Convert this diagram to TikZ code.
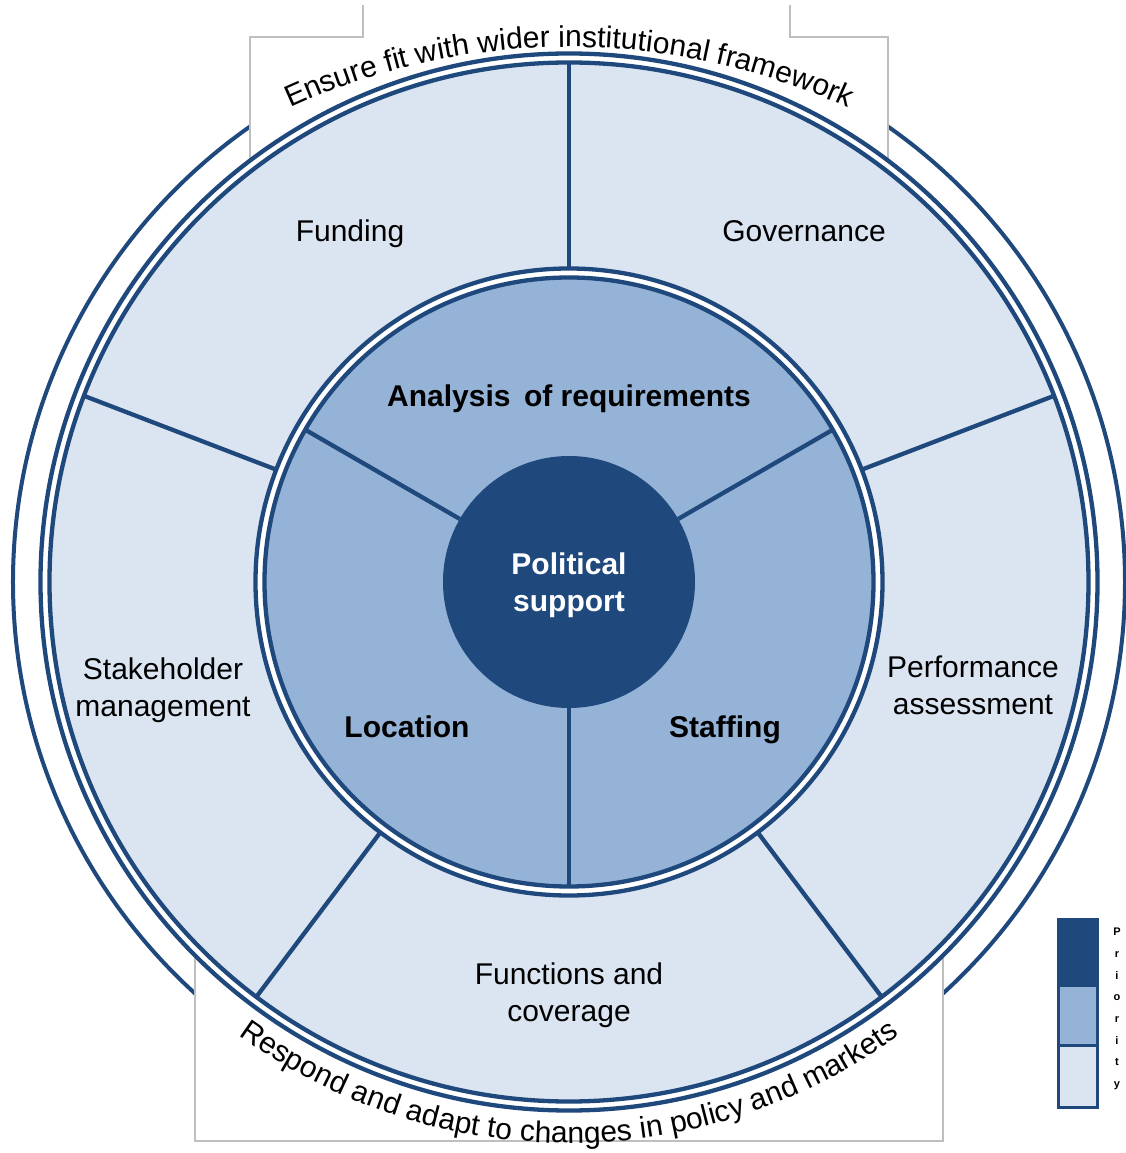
\documentclass[tikz,border=0pt]{standalone}
\usepackage{fontspec}
\setmainfont{Liberation Sans}
\usetikzlibrary{decorations.text}
\definecolor{dkblue}{HTML}{1F497D}
\definecolor{mdblue}{HTML}{95B3D7}
\definecolor{ltblue}{HTML}{DBE5F1}
\definecolor{boxgray}{HTML}{BFBFBF}
\begin{document}
\begin{tikzpicture}[x=1pt,y=1pt,
  ringline/.style={draw=dkblue, line width=4.3pt},
  ringnode/.style={circle, ringline, inner sep=0pt, outer sep=0pt},
  divider/.style={draw=dkblue, line width=4.3pt},
  lbl/.style={font=\fontsize{30}{37}\selectfont, anchor=base, inner sep=0pt},
  blbl/.style={font=\fontsize{30}{37}\selectfont\bfseries, anchor=base, inner sep=0pt},
  boxedge/.style={draw=boxgray, line width=1.3pt},
  legbox/.style={rectangle, draw=dkblue, line width=3pt, inner sep=0pt, minimum width=39pt, anchor=north west},
  arctext/.style={decorate, decoration={text along path, text align=center, text={#1}}}
  ]
\useasboundingbox (-569pt,-571pt) rectangle (557pt,582pt);
\fill[white] (-569pt,-571pt) rectangle (557pt,582pt);
% outermost circle
\draw[dkblue, line width=4pt] (0,0) circle[radius=556pt];
% white text boxes
\fill[white] (-206pt,577pt) rectangle (221pt,300pt);
\fill[white] (-319pt,545pt) rectangle (319pt,300pt);
\fill[white] (-374pt,-559pt) rectangle (374pt,-300pt);
\draw[boxedge] (-206pt,577pt) -- (-206pt,545pt) -- (-319pt,545pt) -- (-319pt,300pt);
\draw[boxedge] (221pt,577pt) -- (221pt,545pt) -- (319pt,545pt) -- (319pt,300pt);
\draw[boxedge] (-374pt,-300pt) -- (-374pt,-559pt) -- (374pt,-559pt) -- (374pt,-300pt);
% outer ring
\node[ringnode, fill=white, minimum size=1057pt] (ringout) at (0,0) {};
\node[ringnode, fill=ltblue, minimum size=1039pt] (ringin) at (0,0) {};
% middle ring
\node[ringnode, fill=white, minimum size=627pt] (midout) at (0,0) {};
\node[ringnode, fill=mdblue, minimum size=609pt] (midin) at (0,0) {};
% core
\node[circle, fill=dkblue, inner sep=0pt, outer sep=0pt, minimum size=252pt] (core) at (0,0) {};
% outer dividers
\foreach \a in {90,21,-53,-127,159}{
  \draw[divider] (midout.\a) -- (ringin.\a);
}
% inner dividers
\foreach \a in {30,150,270}{
  \draw[divider] (core.\a) -- (midin.\a);
}
% labels
\node[lbl] (funding) at (-219pt,340pt) {Funding};
\node[lbl] (gov) at (235pt,340pt) {Governance};
\node[lbl] (stake1) at (-406pt,-97pt) {Stakeholder};
\node[lbl] (stake2) at (-406pt,-134pt) {management};
\node[lbl] (perf1) at (404pt,-95pt) {Performance};
\node[lbl] (perf2) at (404pt,-132pt) {assessment};
\node[lbl] (func1) at (0pt,-402pt) {Functions and};
\node[lbl] (func2) at (0pt,-439pt) {coverage};
\node[blbl] (anal) at (0pt,175pt) {Analysis\hspace{0.45em}of requirements};
\node[blbl] (loc) at (-162pt,-155pt) {Location};
\node[blbl] (staff) at (156pt,-155pt) {Staffing};
\node[blbl, text=white] (pol1) at (0pt,7pt) {Political};
\node[blbl, text=white] (pol2) at (0pt,-30pt) {support};
% curved texts
\path[arctext={|\fontsize{30}{36}\selectfont|Ensure fit with wider institutional framework}]
  (-429.4pt,378.7pt) arc[start angle=130, end angle=50, radius=668pt];
\path[arctext={|\fontsize{30}{36}\selectfont|Respond and adapt to changes in policy and markets}]
  (200:561pt) arc[start angle=200, end angle=340, radius=561pt];
% legend
\node[legbox, fill=dkblue, minimum height=66pt] (leg1) at (488pt,-336pt) {};
\node[legbox, fill=mdblue, minimum height=60pt] (leg2) at (488pt,-402pt) {};
\node[legbox, fill=ltblue, minimum height=62pt] (leg3) at (488pt,-462pt) {};
\node[font=\fontsize{11}{21.7}\selectfont\bfseries, align=center, anchor=north, inner sep=0pt] (prio) at (548pt,-346pt) {P\\r\\i\\o\\r\\i\\t\\y};
\end{tikzpicture}
\end{document}
